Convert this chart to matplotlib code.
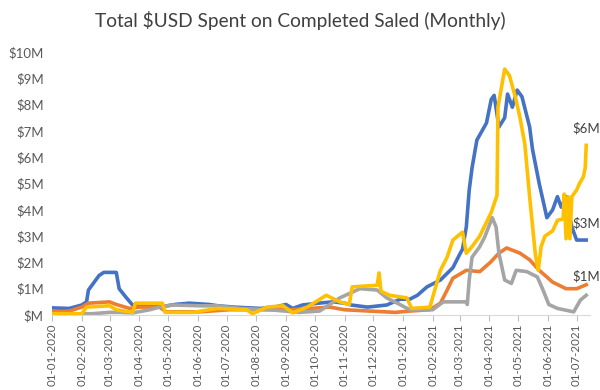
import numpy as np
import pandas as pd
import matplotlib
matplotlib.use("Agg")
import matplotlib.pyplot as plt
import matplotlib.dates as mdates
from matplotlib.ticker import FixedLocator, FuncFormatter

plt.rcParams['font.family'] = ['Lato', 'DejaVu Sans']

# values in $M
blue_dates = ['2020-01-01', '2020-01-19', '2020-02-01', '2020-02-06', '2020-02-08', '2020-02-19',
              '2020-02-24', '2020-03-08', '2020-03-11', '2020-03-18', '2020-03-25', '2020-04-05',
              '2020-04-22', '2020-05-08', '2020-05-23', '2020-06-13', '2020-06-22', '2020-07-09',
              '2020-08-05', '2020-08-20', '2020-09-01', '2020-09-08', '2020-09-18', '2020-10-05',
              '2020-10-20', '2020-11-01', '2020-11-08', '2020-11-25', '2020-12-15', '2020-12-29',
              '2021-01-08', '2021-01-16', '2021-01-26', '2021-02-09', '2021-02-22', '2021-03-01',
              '2021-03-04', '2021-03-08', '2021-03-11', '2021-03-14', '2021-03-19', '2021-03-29',
              '2021-04-03', '2021-04-06', '2021-04-11', '2021-04-17', '2021-04-20', '2021-04-25',
              '2021-04-30', '2021-05-05', '2021-05-13', '2021-05-16', '2021-05-23', '2021-05-31',
              '2021-06-06', '2021-06-11', '2021-06-15', '2021-06-20', '2021-06-26', '2021-07-01',
              '2021-07-11']
blue_vals = [0.27, 0.25, 0.38, 0.5, 0.95, 1.5,
             1.62, 1.62, 1.0, 0.68, 0.38, 0.35,
             0.3, 0.4, 0.45, 0.4, 0.35, 0.3,
             0.25, 0.3, 0.4, 0.25, 0.38, 0.45,
             0.5, 0.45, 0.38, 0.3, 0.38, 0.6,
             0.6, 0.75, 1.07, 1.33, 1.8, 2.3,
             2.5, 3.35, 4.75, 5.6, 6.65, 7.3,
             8.2, 8.35, 7.15, 7.5, 8.4, 7.9,
             8.55, 8.3, 7.15, 6.3, 5.0, 3.7,
             4.0, 4.5, 4.1, 4.5, 3.35, 2.85,
             2.85]

orange_dates = ['2020-01-01', '2020-01-19', '2020-02-01', '2020-02-08', '2020-03-01', '2020-03-08',
                '2020-03-22', '2020-04-01', '2020-04-22', '2020-04-29', '2020-06-03', '2020-07-04',
                '2020-08-05', '2020-09-05', '2020-09-26', '2020-10-17', '2020-11-01', '2020-11-27',
                '2020-12-24', '2021-01-08', '2021-01-29', '2021-02-09', '2021-02-16', '2021-02-22',
                '2021-03-08', '2021-03-22', '2021-04-02', '2021-04-11', '2021-04-19', '2021-05-03',
                '2021-05-13', '2021-05-23', '2021-06-06', '2021-06-20', '2021-07-01', '2021-07-11']
orange_vals = [0.12, 0.15, 0.3, 0.45, 0.5, 0.4,
               0.25, 0.3, 0.3, 0.12, 0.12, 0.2,
               0.2, 0.2, 0.25, 0.3, 0.2, 0.15,
               0.1, 0.15, 0.2, 0.45, 0.95, 1.4,
               1.7, 1.65, 2.0, 2.35, 2.55, 2.35,
               2.1, 1.7, 1.25, 1.0, 1.0, 1.15]

gray_dates = ['2020-01-01', '2020-02-12', '2020-03-01', '2020-03-11', '2020-03-25', '2020-04-12',
              '2020-04-22', '2020-05-06', '2020-06-03', '2020-06-21', '2020-07-15', '2020-08-15',
              '2020-09-15', '2020-10-06', '2020-10-27', '2020-11-17', '2020-12-05', '2020-12-15',
              '2020-12-26', '2021-01-08', '2021-02-01', '2021-02-12', '2021-03-08', '2021-03-09',
              '2021-03-11', '2021-03-14', '2021-03-22', '2021-03-27', '2021-04-04', '2021-04-08',
              '2021-04-11', '2021-04-17', '2021-04-24', '2021-04-29', '2021-05-10', '2021-05-21',
              '2021-05-27', '2021-06-02', '2021-06-11', '2021-06-28', '2021-07-05', '2021-07-11']
gray_vals = [0.03, 0.05, 0.1, 0.1, 0.08, 0.2,
             0.3, 0.38, 0.35, 0.35, 0.25, 0.2,
             0.1, 0.15, 0.65, 1.0, 0.95, 0.65,
             0.45, 0.2, 0.2, 0.5, 0.5, 0.4,
             1.33, 2.2, 2.6, 2.95, 3.7, 3.35,
             2.35, 1.33, 1.2, 1.7, 1.65, 1.45,
             0.95, 0.4, 0.25, 0.12, 0.57, 0.75]

yellow_dates = ['2020-01-01', '2020-02-01', '2020-02-06', '2020-03-01', '2020-03-08', '2020-03-25',
                '2020-03-28', '2020-04-25', '2020-04-28', '2020-05-27', '2020-06-21', '2020-07-22',
                '2020-07-28', '2020-08-12', '2020-08-29', '2020-09-08', '2020-09-23', '2020-10-13',
                '2020-10-27', '2020-11-06', '2020-11-09', '2020-12-05', '2020-12-07', '2020-12-09',
                '2020-12-18', '2021-01-05', '2021-01-10', '2021-01-29', '2021-02-09', '2021-02-16',
                '2021-02-22', '2021-03-04', '2021-03-08', '2021-03-14', '2021-03-22', '2021-04-03',
                '2021-04-09', '2021-04-10', '2021-04-17', '2021-04-22', '2021-04-28', '2021-05-03',
                '2021-05-08', '2021-05-13', '2021-05-19', '2021-05-22', '2021-05-25', '2021-05-29',
                '2021-06-06', '2021-06-11', '2021-06-17', '2021-06-18', '2021-06-20', '2021-06-22',
                '2021-06-24', '2021-06-26', '2021-07-01', '2021-07-04', '2021-07-08', '2021-07-10',
                '2021-07-11']
yellow_vals = [0.05, 0.05, 0.3, 0.35, 0.2, 0.1,
               0.45, 0.45, 0.1, 0.1, 0.25, 0.2,
               0.05, 0.3, 0.35, 0.08, 0.3, 0.75,
               0.5, 0.4, 1.07, 1.13, 1.6, 0.9,
               0.75, 0.65, 0.25, 0.3, 1.7, 2.2,
               2.85, 3.15, 2.35, 2.6, 3.0, 3.9,
               4.55, 7.9, 9.35, 9.1, 8.3, 7.5,
               6.5, 4.5, 2.3, 1.7, 2.6, 3.0,
               3.2, 3.6, 3.65, 4.6, 2.9, 4.5,
               2.9, 4.5, 4.75, 5.0, 5.25, 5.6,
               6.45]

series = [
    (blue_dates, blue_vals, '#4472C4', '$3M'),
    (orange_dates, orange_vals, '#ED7D31', '$1M'),
    (gray_dates, gray_vals, '#A5A5A5', None),
    (yellow_dates, yellow_vals, '#FFC000', '$6M'),
]
label_offsets = {'$3M': 12, '$1M': 6, '$6M': 12}

fig = plt.figure(figsize=(6, 3.9), dpi=100)
ax = fig.add_axes([0.0867, 0.1923, 0.8967, 0.6744])

for dates, vals, color, lab in series:
    d = pd.to_datetime(dates)
    ax.plot(d, vals, color=color, lw=2.6, solid_joinstyle='round')
    if lab:
        ax.annotate(lab, (d[-1], vals[-1]), xytext=(0, label_offsets[lab]),
                    textcoords='offset points', ha='center', va='center',
                    fontsize=9.5, color='#404040')

ax.set_ylim(0, 10)
ax.set_xlim(pd.Timestamp('2020-01-01'), pd.Timestamp('2021-07-15'))
ax.yaxis.set_major_locator(FixedLocator(range(0, 11)))
ax.yaxis.set_major_formatter(FuncFormatter(lambda v, p: '$M' if v == 0 else f'${int(v)}M'))
ax.xaxis.set_major_locator(mdates.MonthLocator())
ax.xaxis.set_major_formatter(mdates.DateFormatter('%d-%m-%Y'))
for lbl in ax.get_xticklabels():
    lbl.set_rotation(90)

ax.tick_params(axis='y', length=0, labelsize=9.5, labelcolor='#595959', pad=6)
ax.tick_params(axis='x', length=4, color='#BFBFBF', labelsize=8.3, labelcolor='#595959', pad=2)
for s in ['top', 'right', 'left']:
    ax.spines[s].set_visible(False)
ax.spines['bottom'].set_color('#D9D9D9')

fig.text(0.5, 0.948, 'Total $USD Spent on Completed Saled (Monthly)', ha='center', va='center',
         fontsize=13.8, color='#404040')

fig.savefig('out.png', dpi=100)
